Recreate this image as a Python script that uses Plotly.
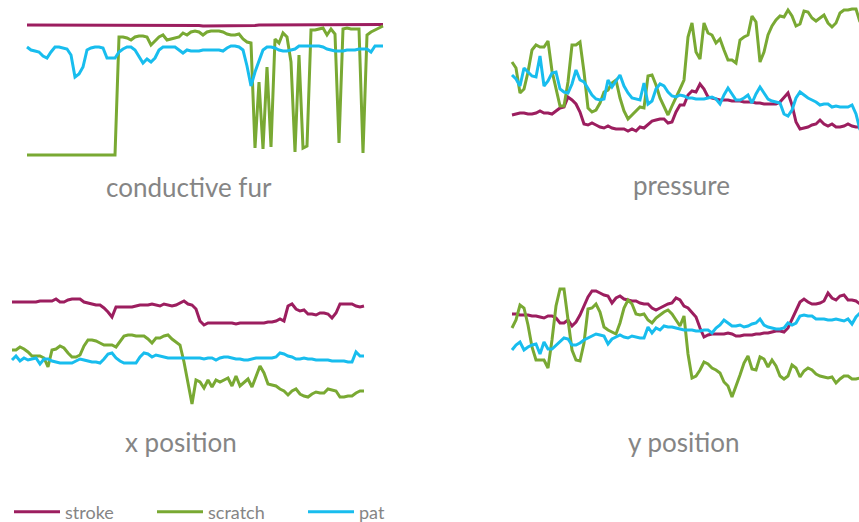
import plotly.graph_objects as go

W, H = 859, 522

STROKE = "#9c1e5f"
SCRATCH = "#79a933"
PAT = "#18bdee"
TEXT = "#858585"
FONT = "Lato, 'Open Sans', sans-serif"

SERIES_NAMES = ["stroke", "scratch", "pat"]
SERIES_COLORS = [STROKE, SCRATCH, PAT]

# ---- conductive fur (90 samples) ----
fur_stroke = [
    135, 135, 135, 135, 135, 135, 135, 135, 135, 135,
    135, 135, 135, 135, 135, 135, 135, 135, 135, 135,
    135, 135, 135, 135, 135, 135, 135, 135, 135, 135,
    135, 135, 135, 135, 135, 135, 135, 135, 135, 135,
    135, 134.5, 134.5, 134.5, 134, 134, 134, 134, 134, 134,
    134, 134, 134, 134, 134.5, 134.5, 134.5, 134.5, 135, 135,
    135, 135, 135, 135, 135, 135, 135, 135, 135, 135,
    135, 135, 135, 135, 135, 135, 135, 135, 135, 135,
    135, 135, 135, 135.5, 135.5, 135.5, 135.5, 135.5, 135.5, 135.5,
]
fur_scratch = [
    5, 5, 5, 5, 5, 5, 5, 5, 5, 5,
    5, 5, 5, 5, 5, 5, 5, 5, 5, 5,
    5, 5, 5, 123, 123, 122, 120, 123, 124, 124,
    123, 115, 119, 123, 125, 120, 121, 122, 123, 127,
    125, 128, 129, 128, 125, 128, 129, 129, 129, 128,
    126, 125, 125, 126, 121, 118, 117, 12, 78, 11,
    93, 13, 121, 117, 127, 123, 98, 8, 105, 12,
    14, 130, 130, 131, 132, 125, 131, 126, 17, 131,
    132, 131, 131, 131, 7, 125, 128, 130, 132, 134,
]
fur_pat = [
    113, 110, 109, 108, 104, 102, 108, 113, 113, 112,
    111, 105, 83, 86, 93, 110, 112, 113, 113, 112,
    102, 102, 102, 108, 111, 113, 113, 110, 104, 97,
    101, 98, 102, 110, 113, 113, 113, 113, 110, 107,
    110, 109, 109, 109, 110, 110, 110, 110, 110, 109,
    112, 114, 114, 113, 110, 94, 74, 88, 98, 110,
    113, 113, 112, 110, 109, 109, 110, 111, 114, 114,
    114, 114, 114, 114, 113, 111, 110, 109, 109, 109,
    110, 110, 110, 111, 111, 111, 108, 114, 114, 114,
]

# ---- pressure (88 samples) ----
pressure_stroke = [
    25, 26, 27, 27, 26, 26, 27, 29, 27, 27,
    26, 29, 32, 33, 43, 40, 36, 28, 16, 15,
    17, 15, 13, 12, 14, 12, 11, 11, 11, 9,
    11, 9, 13, 12, 16, 19, 20, 21, 21, 17,
    18, 28, 35, 35, 45, 49, 48, 56, 51, 43,
    42, 41, 40, 40, 40, 39, 39, 39, 38, 38,
    38, 37, 37, 36, 36, 36, 36, 38, 42, 47,
    35, 18, 11, 12, 13, 15, 16, 20, 16, 14,
    16, 13, 13, 14, 16, 14, 13, 13,
]
pressure_scratch = [
    78, 72, 47, 51, 68, 90, 95, 93, 93, 99,
    69, 52, 34, 34, 58, 95, 95, 98, 68, 32,
    28, 30, 37, 48, 50, 57, 60, 42, 29, 21,
    25, 29, 33, 32, 64, 65, 55, 42, 34, 25,
    34, 42, 51, 60, 103, 117, 88, 81, 117, 107,
    105, 97, 101, 90, 80, 80, 77, 100, 103, 105,
    124, 118, 78, 88, 105, 114, 120, 124, 123, 130,
    124, 114, 116, 129, 128, 122, 119, 122, 125, 117,
    113, 117, 127, 130, 130, 131, 131, 118,
]
pressure_pat = [
    65, 61, 54, 72, 68, 64, 63, 84, 54, 59,
    67, 68, 51, 48, 47, 56, 70, 60, 58, 51,
    45, 41, 40, 41, 60, 53, 59, 65, 54, 47,
    42, 41, 40, 57, 36, 39, 51, 56, 54, 48,
    44, 43, 45, 44, 42, 42, 41, 41, 41, 42,
    43, 41, 36, 45, 52, 46, 40, 40, 42, 45,
    37, 46, 53, 47, 41, 39, 38, 37, 26, 24,
    30, 42, 48, 45, 42, 40, 38, 35, 36, 36,
    33, 34, 33, 33, 33, 35, 26, 10,
]

# ---- x position (89 samples) ----
xpos_stroke = [
    118, 118, 118, 118, 118, 118, 118, 119, 119, 119,
    119, 121, 118, 118, 120, 121, 121, 121, 118, 117,
    116, 115, 115, 112, 108, 103, 113, 113, 113, 113,
    113, 114, 115, 115, 115, 116, 115, 114, 116, 115,
    114, 115, 117, 119, 116, 115, 111, 99, 95, 97,
    97, 97, 97, 97, 97, 97, 96, 97, 97, 97,
    97, 97, 97, 97, 98, 98, 99, 101, 99, 114,
    116, 111, 109, 110, 106, 106, 105, 107, 107, 106,
    102, 107, 116, 116, 116, 116, 114, 113, 114,
]
xpos_scratch = [
    70, 70, 73, 71, 68, 64, 64, 64, 62, 53,
    70, 71, 74, 72, 67, 63, 63, 65, 74, 80,
    80, 79, 77, 75, 75, 75, 73, 79, 84, 85,
    85, 84, 84, 84, 81, 77, 82, 82, 84, 85,
    81, 78, 75, 58, 35, 16, 40, 38, 32, 40,
    33, 40, 38, 40, 42, 34, 44, 34, 38, 41,
    33, 44, 54, 47, 36, 35, 34, 31, 29, 25,
    29, 31, 26, 24, 23, 26, 28, 27, 27, 31,
    30, 29, 23, 23, 24, 24, 27, 29, 29,
]
xpos_pat = [
    60, 64, 59, 62, 60, 61, 62, 56, 61, 61,
    59, 58, 57, 57, 57, 57, 59, 61, 60, 59,
    58, 58, 57, 61, 66, 67, 62, 59, 57, 57,
    57, 57, 63, 67, 66, 63, 65, 64, 63, 62,
    62, 62, 62, 62, 62, 62, 62, 62, 61, 62,
    62, 60, 62, 63, 63, 62, 61, 61, 60, 60,
    61, 62, 62, 62, 62, 62, 63, 67, 66, 64,
    63, 61, 61, 62, 61, 61, 60, 60, 60, 60,
    59, 59, 59, 59, 58, 58, 68, 64, 64,
]

# ---- y position (88 samples) ----
ypos_stroke = [
    106, 106, 105, 105, 105, 104, 104, 103, 102, 104,
    104, 102, 97, 97, 100, 94, 98, 105, 114, 123,
    129, 129, 127, 125, 124, 117, 122, 124, 121, 120,
    119, 119, 117, 116, 116, 112, 110, 112, 114, 116,
    117, 122, 120, 114, 112, 108, 103, 92, 83, 85,
    86, 86, 86, 86, 87, 86, 84, 84, 85, 85,
    85, 86, 86, 87, 87, 88, 89, 89, 88, 92,
    101, 110, 118, 121, 118, 116, 116, 117, 119, 127,
    122, 120, 124, 125, 120, 120, 119, 116,
]
ypos_scratch = [
    92, 100, 115, 112, 95, 73, 60, 60, 60, 52,
    80, 114, 131, 131, 100, 70, 60, 59, 77, 111,
    112, 116, 108, 93, 90, 88, 86, 97, 112, 120,
    116, 106, 105, 106, 100, 97, 102, 105, 108, 110,
    106, 100, 94, 104, 66, 42, 44, 50, 58, 56,
    52, 50, 47, 38, 34, 23, 33, 45, 57, 64,
    51, 50, 63, 61, 53, 60, 54, 44, 41, 44,
    55, 52, 43, 49, 52, 50, 46, 44, 43, 42,
    43, 37, 41, 44, 44, 41, 41, 42,
]
ypos_pat = [
    70, 75, 78, 70, 73, 75, 76, 66, 78, 71,
    71, 75, 78, 82, 81, 75, 75, 77, 80, 82,
    84, 86, 85, 84, 76, 81, 83, 85, 83, 82,
    84, 83, 82, 82, 93, 87, 92, 90, 94, 93,
    93, 92, 91, 90, 90, 90, 89, 89, 90, 90,
    87, 92, 95, 100, 97, 94, 94, 95, 93, 94,
    96, 97, 101, 95, 93, 92, 91, 91, 92, 97,
    95, 97, 104, 105, 104, 104, 101, 101, 101, 100,
    100, 101, 100, 99, 101, 96, 103, 107,
]

TITLES = ["conductive fur", "pressure", "x position", "y position"]
PANEL_DATA = [
    (fur_stroke, fur_scratch, fur_pat),
    (pressure_stroke, pressure_scratch, pressure_pat),
    (xpos_stroke, xpos_scratch, xpos_pat),
    (ypos_stroke, ypos_scratch, ypos_pat),
]

# Panel geometry in pixels: plot box (left, right, top, bottom),
# first-sample x, sample spacing, value at top edge of canvas, title centre.
PANEL_GEOM = [
    dict(box=(20, 392, 12, 168), t0=27, step=4, base=160, title=(189, 187)),
    dict(box=(505, 859, 0, 140), t0=512, step=4, base=140, title=(681, 185)),
    dict(box=(5, 372, 285, 415), t0=12, step=4, base=420, title=(181, 442)),
    dict(box=(505, 859, 280, 410), t0=512, step=4, base=420, title=(684, 442)),
]

# one legend box per series, laid out in a row along the bottom
LEGEND_LEFT = [9, 152, 303]
LEGEND_KEYS = ["legend", "legend2", "legend3"]

fig = go.Figure()
layout_axes = {}
annotations = []

for k, (series, geom, title) in enumerate(zip(PANEL_DATA, PANEL_GEOM, TITLES)):
    n = k + 1
    xa = "x" if n == 1 else f"x{n}"
    ya = "y" if n == 1 else f"y{n}"
    for j, (name, color, vals) in enumerate(zip(SERIES_NAMES, SERIES_COLORS, series)):
        fig.add_trace(go.Scatter(
            x=list(range(len(vals))), y=vals, mode="lines",
            line=dict(color=color, width=3),
            name=name, legendgroup=name, showlegend=(k == 0),
            legend=LEGEND_KEYS[j],
            xaxis=xa, yaxis=ya, hoverinfo="skip",
        ))
    L, R, T, B = geom["box"]
    t0, step, base = geom["t0"], geom["step"], geom["base"]
    hidden = dict(visible=False, showgrid=False, zeroline=False, fixedrange=True)
    layout_axes["xaxis" if n == 1 else f"xaxis{n}"] = dict(
        domain=[L / W, R / W],
        range=[(L - t0) / step, (R - t0) / step],
        anchor=ya, **hidden)
    layout_axes["yaxis" if n == 1 else f"yaxis{n}"] = dict(
        domain=[1 - B / H, 1 - T / H],
        range=[base - B, base - T],
        anchor=xa, **hidden)
    tx, ty = geom["title"]
    annotations.append(dict(
        text=title, x=tx / W, y=1 - ty / H, xref="paper", yref="paper",
        xanchor="center", yanchor="middle", showarrow=False,
        font=dict(family=FONT, size=26, color=TEXT)))

legends = {}
for key, left in zip(LEGEND_KEYS, LEGEND_LEFT):
    legends[key] = dict(
        orientation="h", x=left / W, xanchor="left",
        y=1 - 512 / H, yanchor="middle",
        font=dict(family=FONT, size=18, color=TEXT),
        itemwidth=46, bgcolor="rgba(0,0,0,0)")

fig.update_layout(
    width=W, height=H,
    margin=dict(l=0, r=0, t=0, b=0, autoexpand=False),
    paper_bgcolor="white", plot_bgcolor="rgba(0,0,0,0)",
    showlegend=True,
    annotations=annotations,
    **legends,
    **layout_axes,
)

fig.write_html("out.html")
